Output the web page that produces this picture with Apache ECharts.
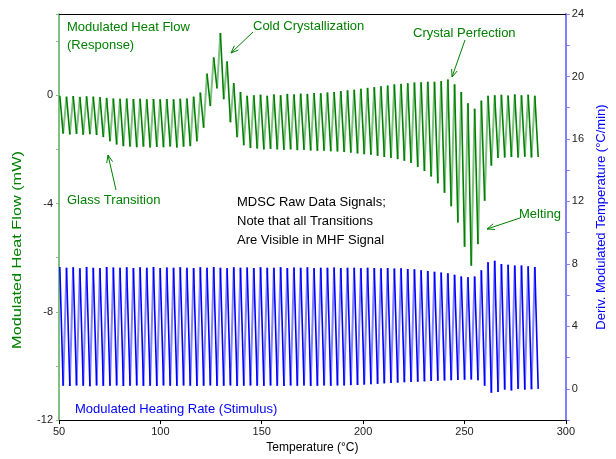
<!DOCTYPE html>
<html>
<head>
<meta charset="utf-8">
<title>MDSC Raw Data Signals</title>
<script src="https://cdn.jsdelivr.net/npm/echarts@6/dist/echarts.min.js"></script>
<style>
  html, body { margin: 0; padding: 0; background: #fff; }
  #chart { width: 616px; height: 459px; }
</style>
</head>
<body>
<div id="chart"></div>
<script>
// temperature (°C) of each modulation cycle's upper point
var cycleTemps = [50.4, 53.7, 57.0, 60.3, 63.6, 66.9, 70.2, 73.5, 76.8, 80.1,
  83.4, 86.7, 90.0, 93.3, 96.6, 99.9, 103.2, 106.5, 109.8, 113.1,
  116.4, 119.7, 123.0, 126.3, 129.6, 132.9, 136.2, 139.5, 142.8, 146.1,
  149.4, 152.7, 156.0, 159.3, 162.6, 165.9, 169.2, 172.5, 175.8, 179.1,
  182.4, 185.7, 189.0, 192.3, 195.6, 198.9, 202.2, 205.5, 208.8, 212.1,
  215.4, 218.7, 222.0, 225.3, 228.6, 231.9, 235.2, 238.5, 241.8, 245.1,
  248.4, 251.7, 255.0, 258.3, 261.6, 264.9, 268.2, 271.5, 274.8, 278.1,
  281.4, 284.7];
var halfCycle = 1.65; // lower point comes half a cycle later

// modulated heat flow (mW), upper and lower points of each cycle
var hfPeak = [-0.02, -0.05, -0.03, -0.06, -0.04, -0.05, -0.07, -0.1, -0.12, -0.13,
  -0.12, -0.14, -0.13, -0.15, -0.14, -0.15, -0.14, -0.15, -0.13, -0.12,
  -0.05, 0.1, 0.8, 1.4, 2.3, 1.25, 0.45, 0.12, -0.02, 0.0,
  0.02, -0.02, 0.03, 0.0, 0.05, 0.03, 0.06, 0.05, 0.08, 0.07,
  0.1, 0.12, 0.15, 0.18, 0.2, 0.24, 0.27, 0.3, 0.33, 0.36,
  0.4, 0.42, 0.44, 0.47, 0.48, 0.5, 0.5, 0.52, 0.58, 0.4,
  0.12, -0.3, -0.5, -0.2, -0.02, 0.0, 0.02, -0.01, 0.03, 0.0,
  0.02, -0.02];
var hfTrough = [-1.42, -1.45, -1.43, -1.46, -1.44, -1.47, -1.55, -1.7, -1.82, -1.88,
  -1.9, -1.92, -1.9, -1.93, -1.91, -1.92, -1.9, -1.93, -1.9, -1.88,
  -1.7, -1.2, -0.4, 0.25, -0.15, -1.0, -1.55, -1.85, -1.95, -1.97,
  -2.0, -1.98, -2.0, -2.02, -2.0, -2.03, -2.02, -2.04, -2.05, -2.05,
  -2.07, -2.08, -2.1, -2.12, -2.15, -2.18, -2.2, -2.24, -2.28, -2.32,
  -2.36, -2.42, -2.5, -2.65, -2.8, -3.0, -3.25, -3.6, -4.1, -4.7,
  -5.6, -6.3, -5.5, -3.9, -2.6, -2.32, -2.3, -2.28, -2.3, -2.27,
  -2.3, -2.28];

// modulated heating rate (°C/min), upper and lower points of each cycle
var ratePeak = [7.8, 7.75, 7.78, 7.72, 7.8, 7.76, 7.74, 7.8, 7.77, 7.75,
  7.79, 7.74, 7.78, 7.76, 7.8, 7.73, 7.77, 7.75, 7.79, 7.76,
  7.74, 7.78, 7.75, 7.8, 7.76, 7.73, 7.78, 7.75, 7.77, 7.74,
  7.78, 7.76, 7.75, 7.79, 7.74, 7.77, 7.75, 7.78, 7.73, 7.76,
  7.75, 7.77, 7.74, 7.76, 7.75, 7.73, 7.76, 7.74, 7.72, 7.74,
  7.7, 7.72, 7.68, 7.66, 7.6, 7.55, 7.5, 7.45, 7.4, 7.3,
  7.2, 7.15, 7.2, 7.6, 8.1, 8.2, 8.0, 7.95, 7.9, 7.9,
  7.85, 7.8];
var rateTrough = [0.2, 0.18, 0.22, 0.2, 0.17, 0.21, 0.19, 0.2, 0.22, 0.18,
  0.2, 0.21, 0.19, 0.2, 0.18, 0.22, 0.2, 0.19, 0.21, 0.2,
  0.18, 0.2, 0.22, 0.19, 0.2, 0.21, 0.18, 0.2, 0.22, 0.2,
  0.19, 0.21, 0.2, 0.18, 0.22, 0.2, 0.21, 0.19, 0.2, 0.22,
  0.2, 0.21, 0.22, 0.24, 0.25, 0.27, 0.3, 0.32, 0.35, 0.37,
  0.4, 0.42, 0.44, 0.46, 0.48, 0.5, 0.52, 0.54, 0.55, 0.57,
  0.58, 0.6, 0.55, 0.2, -0.25, -0.2, -0.05, -0.1, 0.0, -0.05,
  -0.02, 0.0];

var hfTicks = [-12, -8, -4, 0];
var rateTicks = [0, 4, 8, 12, 16, 20, 24];

// falling strokes (peak -> trough) and rising strokes (trough -> next peak),
// each stroke ended by a gap point so the two tones alternate
function falling(peaks, troughs) {
  var out = [];
  for (var i = 0; i < cycleTemps.length; i++) {
    var t = cycleTemps[i];
    out.push([t, peaks[i]], [t + halfCycle, troughs[i]], [t + halfCycle, '-']);
  }
  return out;
}
function rising(peaks, troughs) {
  var out = [];
  for (var i = 0; i < cycleTemps.length - 1; i++) {
    var t = cycleTemps[i] + halfCycle;
    out.push([t, troughs[i]], [cycleTemps[i + 1], peaks[i + 1]], [cycleTemps[i + 1], '-']);
  }
  return out;
}

var FONT = '"Liberation Sans", Arial, sans-serif';
var GREEN = '#008000';
var BLUE = '#0000ff';

function label(text, x, y, color) {
  return { type: 'text', x: x, y: y,
    style: { text: text, fill: color, font: '13px ' + FONT, textVerticalAlign: 'middle' } };
}

function arrow(x1, y1, x2, y2) {
  var a = Math.atan2(y2 - y1, x2 - x1), len = 8, spread = 0.38;
  return { type: 'group', children: [
    { type: 'line', shape: { x1: x1, y1: y1, x2: x2, y2: y2 }, style: { stroke: GREEN, lineWidth: 1 } },
    { type: 'polyline', shape: { points: [
        [x2 - len * Math.cos(a - spread), y2 - len * Math.sin(a - spread)],
        [x2, y2],
        [x2 - len * Math.cos(a + spread), y2 - len * Math.sin(a + spread)]] },
      style: { stroke: GREEN, lineWidth: 1, fill: null } }
  ] };
}

function stroke(name, yIndex, data, color, width) {
  return { name: name, type: 'line', xAxisIndex: 0, yAxisIndex: yIndex,
    data: data, showSymbol: false, connectNulls: false,
    lineStyle: { color: color, width: width } };
}

var chart = echarts.init(document.getElementById('chart'), null, { renderer: 'canvas' });

chart.setOption({
  animation: false,
  backgroundColor: '#fff',
  textStyle: { fontFamily: FONT },
  grid: { left: 59, right: 43, top: 14, bottom: 36 },
  xAxis: [{
    type: 'value', min: 50, max: 300, interval: 50,
    name: 'Temperature (°C)', nameLocation: 'middle', nameGap: 19,
    nameTextStyle: { color: '#000', fontSize: 12 },
    axisLine: { onZero: false, lineStyle: { color: '#000', width: 1 } },
    axisTick: { length: 4, lineStyle: { color: '#000' } },
    axisLabel: { color: '#222', fontSize: 11, margin: 6 },
    splitLine: { show: false }
  }, {
    type: 'value', position: 'top', min: 50, max: 300,
    axisLine: { onZero: false, lineStyle: { color: '#000', width: 1 } },
    axisTick: { show: false }, axisLabel: { show: false }, splitLine: { show: false }
  }],
  yAxis: [{
    type: 'value', position: 'left', min: -12, max: 3, interval: 2,
    axisLine: { show: true, onZero: false, lineStyle: { color: '#80c080', width: 2 } },
    axisTick: { show: true, length: 3, lineStyle: { color: '#80c080' } },
    axisLabel: { color: '#222', fontSize: 11, margin: 6,
      formatter: function (v) { return hfTicks.indexOf(v) >= 0 ? String(v) : ''; } },
    splitLine: { show: false }
  }, {
    type: 'value', position: 'right', min: -2, max: 24, interval: 2,
    name: 'Deriv. Modulated Temperature (°C/min)', nameLocation: 'middle', nameGap: 29,
    nameRotate: 90,
    nameTextStyle: { color: BLUE, fontSize: 13 },
    axisLine: { show: true, onZero: false, lineStyle: { color: '#8080ff', width: 2 } },
    axisTick: { show: true, length: 4, lineStyle: { color: '#8080ff' } },
    axisLabel: { color: '#222', fontSize: 11, margin: 6,
      formatter: function (v) { return rateTicks.indexOf(v) >= 0 ? String(v) : ''; } },
    splitLine: { show: false }
  }],
  series: [
    stroke('Modulated Heat Flow', 0, rising(hfPeak, hfTrough), '#7fbf7f', 2),
    stroke('Modulated Heat Flow', 0, falling(hfPeak, hfTrough), '#008000', 1.6),
    stroke('Modulated Heating Rate', 1, rising(ratePeak, rateTrough), '#7f7fff', 2),
    stroke('Modulated Heating Rate', 1, falling(ratePeak, rateTrough), '#0000ff', 1.6)
  ],
  graphic: [
    { type: 'text', x: 17, y: 250, rotation: Math.PI / 2, scaleX: 1.25,
      style: { text: 'Modulated Heat Flow (mW)', fill: GREEN, font: '13px ' + FONT,
        textAlign: 'center', textVerticalAlign: 'middle' } },
    label('Modulated Heat Flow', 67, 27, GREEN),
    label('(Response)', 67, 45, GREEN),
    label('Cold Crystallization', 253, 26, GREEN),
    label('Crystal Perfection', 413, 33, GREEN),
    label('Glass Transition', 67, 200, GREEN),
    label('Melting', 519, 214, GREEN),
    label('MDSC Raw Data Signals;', 237, 202, '#000'),
    label('Note that all Transitions', 237, 221, '#000'),
    label('Are Visible in MHF Signal', 237, 240, '#000'),
    label('Modulated Heating Rate (Stimulus)', 75, 409, BLUE),
    arrow(253, 32, 231, 53),
    arrow(465, 40, 452, 77),
    arrow(116, 190, 108, 155),
    arrow(520, 218, 487, 229)
  ]
});
</script>
</body>
</html>
